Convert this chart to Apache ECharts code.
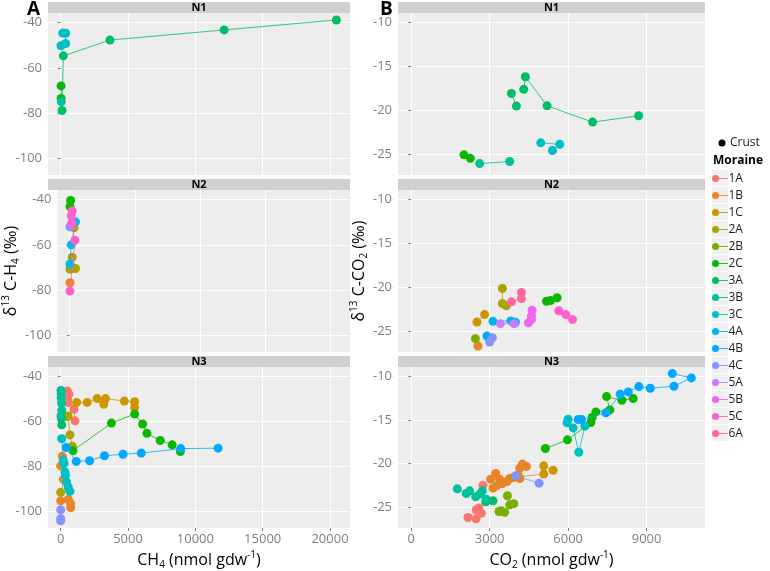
<!DOCTYPE html>
<html><head><meta charset="utf-8">
<script src="https://cdn.jsdelivr.net/npm/echarts@6/dist/echarts.min.js"></script>
<style>html,body{margin:0;padding:0;background:#fff}#c{width:770px;height:571px}</style>
</head><body><div id="c"></div>
<script>
// ---------- data ----------
const moraines = ['1A','1B','1C','2A','2B','2C','3A','3B','3C','4A','4B','4C','5A','5B','5C','6A'];
const moraineColors = ['#F8766D','#E88526','#CD9600','#ABA300','#7CAE00','#0CB702','#00BE67','#00C19A','#00BFC4','#00B8E7','#00A9FF','#8494FF','#C77CFF','#ED68ED','#FF61CC','#FF689F'];
const panelNames = ['N1','N2','N3'];
const ch4Ticks = [0,5000,10000,15000,20000];
const co2Ticks = [0,3000,6000,9000];
const d13CH4Ticks = [-100,-80,-60,-40];
const d13CO2Ticks = [-25,-20,-15,-10];

// rows: [moraine, x, y] in path order; a null x breaks the path
const CH4_N1 = [
  ['2C',30,-68.0],['2C',30,-73.6],
  ['3A',20474,-38.8],['3A',12137,-43.2],['3A',3657,-47.7],['3A',193,-54.7],['3A',100,-78.9],
  ['3B',40,-75.0],
  ['3C',148,-44.6],['3C',370,-44.7],['3C',370,-49.2],['3C',22,-50.2]
];
const CO2_N1 = [
  ['2C',2016,-25.1],['2C',2260,-25.5],
  ['3A',3831,-18.08],['3A',4022,-19.53],['3A',null,null],['3A',4302,-17.62],['3A',4367,-16.18],['3A',5196,-19.5],['3A',6934,-21.36],['3A',8696,-20.64],
  ['3B',2617,-26.1],['3B',3766,-25.86],
  ['3C',4953,-23.73],['3C',5681,-23.9],['3C',5402,-24.6]
];
const CH4_N2 = [
  ['1B',22,-76.8],
  ['1C',330,-52.5],
  ['2A',196,-65.5],['2A',22,-70.8],['2A',443,-70.5],
  ['2C',72,-40.3],['2C',22,-43.0],
  ['4A',443,-49.8],['4A',121,-60.0],['4A',22,-68.5],
  ['4C',22,-52.0],
  ['5C',196,-45.0],['5C',121,-47.2],['5C',150,-50.5],['5C',393,-58.0],['5C',22,-80.5]
];
const CO2_N2 = [
  ['1B',2553,-26.72],
  ['1C',2514,-23.97],['1C',2808,-23.13],
  ['2A',3486,-20.14],['2A',3486,-21.86],['2A',3640,-22.13],
  ['2B',2452,-25.88],
  ['2C',5172,-21.6],['2C',5325,-21.52],['2C',5579,-21.2],
  ['4A',3127,-23.9],['4A',3805,-23.85],['4A',3984,-24.0],
  ['4B',2897,-25.58],
  ['4C',3103,-25.77],['4C',3000,-26.27],
  ['5A',3410,-24.16],['5A',3933,-24.16],
  ['5B',4622,-22.63],['5B',4597,-23.28],['5B',4597,-23.7],['5B',4482,-24.08],
  ['5C',5643,-22.7],['5C',5911,-23.13],['5C',6168,-23.7],
  ['6A',3831,-21.67],['6A',4214,-21.3],['6A',4214,-20.6]
];
const CH4_N3 = [
  ['1A',493,-46.4],['1A',616,-47.8],['1A',493,-50.1],['1A',542,-51.5],['1A',985,-54.5],['1A',1059,-59.7],
  ['1B',123,-75.5],['1B',0,-79.8],['1B',200,-85.8],['1B',0,-95.4],['1B',566,-94.8],['1B',741,-96.6],['1B',741,-98.4],
  ['1C',493,-57.8],['1C',1182,-51.5],['1C',1970,-51.5],['1C',2709,-49.8],['1C',3202,-52.3],['1C',3325,-49.8],['1C',4729,-50.9],['1C',5493,-51.2],['1C',5493,-53.8],
  ['2A',542,-57.5],['2A',690,-66.0],['2A',862,-71.0],['2A',null,null],['2A',0,-91.6],
  ['2C',911,-73.0],['2C',3768,-60.7],['2C',5493,-56.7],['2C',6084,-61.1],['2C',6404,-65.3],['2C',7389,-68.5],['2C',8276,-70.4],['2C',8892,-73.4],
  ['3A',50,-58.5],['3A',80,-61.5],
  ['3B',20,-46.2],['3B',40,-47.5],['3B',30,-49.5],['3B',60,-51.8],['3B',80,-55.0],['3B',20,-57.5],
  ['3C',70,-67.7],['3C',190,-77.3],['3C',250,-78.8],['3C',320,-82.5],['3C',350,-84.0],['3C',440,-87.0],['3C',560,-89.2],['3C',690,-91.1],
  ['4B',419,-71.6],['4B',1158,-77.8],['4B',2143,-77.5],['4B',3251,-75.3],['4B',4630,-74.6],['4B',5985,-74.1],['4B',8916,-72.1],['4B',11691,-71.9],
  ['4C',0,-99.4],['4C',0,-103.4],['4C',0,-104.3]
];
const CO2_N3 = [
  ['1A',2745,-22.5],['1A',null,null],['1A',2590,-25.1],['1A',2680,-25.7],['1A',2490,-25.3],['1A',2170,-26.2],['1A',2480,-26.35],
  ['1B',3038,-21.79],['1B',3230,-21.14],['1B',3383,-21.79],['1B',3485,-22.29],['1B',3255,-22.56],['1B',3127,-22.82],['1B',3664,-22.06],['1B',3766,-21.71],['1B',4150,-21.71],['1B',4086,-21.29],['1B',4150,-20.52],['1B',4252,-20.06],['1B',4405,-20.33],
  ['1C',3900,-21.6],['1C',5068,-21.2],['1C',5068,-20.26],['1C',5425,-20.76],
  ['2B',3677,-23.7],['2B',3767,-24.74],['2B',3920,-24.6],['2B',3573,-25.6],['2B',3445,-25.43],['2B',3356,-25.5],
  ['2C',5132,-18.27],['2C',5974,-17.27],['2C',6868,-15.28],['2C',6919,-14.7],['2C',7060,-14.06],['2C',7596,-13.83],['2C',7468,-12.3],['2C',8055,-12.72],['2C',8489,-12.53],
  ['3A',2847,-24.39],['3A',3128,-24.27],
  ['3B',1762,-22.9],['3B',2106,-23.43],['3B',2234,-23.13],['3B',2463,-23.82],['3B',2617,-23.51],['3B',2720,-23.13],['3B',2872,-24.1],
  ['3C',5962,-15.3],['3C',6000,-14.9],['3C',6191,-15.9],['3C',6408,-18.7],['3C',6638,-15.7],
  ['4B',9983,-9.66],['4B',10711,-10.15],['4B',10047,-11.11],['4B',9140,-11.34],['4B',8706,-11.15],['4B',8298,-11.76],['4B',7992,-12.03],['4B',7443,-14.17],['4B',6510,-14.94],['4B',6383,-14.94],
  ['4C',3996,-21.41],['4C',4890,-22.25]
];

// ---------- layout ----------
const FONT = 'Open Sans';
const rowTop = [13,190,367], rowH = 162;
const cols = [{left:48,width:302},{left:398,width:307}];
const xRange = [[-943,21484],[-505,11233]];
const yRange = [[-107.5,-35.7],[-27.4,-8.9]];
const xTicks = [ch4Ticks, co2Ticks];
const yTicks = [d13CH4Ticks, d13CO2Ticks];
const panelData = [[CH4_N1,CH4_N2,CH4_N3],[CO2_N1,CO2_N2,CO2_N3]];

const rich = {
  n:{fontFamily:FONT,fontSize:16,color:'#000',lineHeight:20,verticalAlign:'middle'},
  sup:{fontFamily:FONT,fontSize:10,color:'#000',lineHeight:10,verticalAlign:'top'},
  sub:{fontFamily:FONT,fontSize:10,color:'#000',lineHeight:10,verticalAlign:'bottom'}
};
const xNames = ['{n|CH}{sub|4}{n| (nmol gdw}{sup|-1}{n|)}','{n|CO}{sub|2}{n| (nmol gdw}{sup|-1}{n|)}'];
const yNames = ['{n|δ}{sup|13}{n| C-H}{sub|4}{n| (‰)}','{n|δ}{sup|13}{n| C-CO}{sub|2}{n| (‰)}'];

const grids=[], xAxes=[], yAxes=[], series=[], graphics=[];
cols.forEach((c,ci)=>{
  rowTop.forEach((t,ri)=>{
    const gi = ci*3+ri;
    grids.push({left:c.left, top:t, width:c.width, height:rowH, show:true, backgroundColor:'#EDEDED', borderWidth:0});
    const bottom = ri===2;
    xAxes.push({
      type:'value', gridIndex:gi, min:xRange[ci][0], max:xRange[ci][1],
      axisLine:{show:false},
      axisTick:{show:bottom, customValues:xTicks[ci], length:3, lineStyle:{color:'#7F7F7F'}},
      axisLabel:{show:bottom, customValues:xTicks[ci], margin:5, fontFamily:FONT, fontSize:13, color:'#7F7F7F', formatter:v=>String(v)},
      splitLine:{show:true, lineStyle:{color:'#FFFFFF', width:1}},
      name: bottom? xNames[ci] : '', nameLocation:'middle', nameGap:22,
      nameTextStyle:{rich:rich}
    });
    yAxes.push({
      type:'value', gridIndex:gi, min:yRange[ci][0], max:yRange[ci][1],
      axisLine:{show:false},
      axisTick:{show:true, customValues:yTicks[ci], length:3, lineStyle:{color:'#7F7F7F'}},
      axisLabel:{show:true, customValues:yTicks[ci], margin:6, fontFamily:FONT, fontSize:13, color:'#7F7F7F', formatter:v=>String(v)},
      splitLine:{show:true, lineStyle:{color:'#FFFFFF', width:1}},
      name: ri===1? yNames[ci] : '', nameLocation:'middle', nameGap:27, nameRotate:90,
      nameTextStyle:{rich:rich}
    });
    // strip
    graphics.push({type:'rect', shape:{x:c.left, y:t-11, width:c.width, height:11}, style:{fill:'#CFCFCF'}, silent:true});
    graphics.push({type:'text', x:c.left+c.width/2, y:t-5.5, style:{text:panelNames[ri], fill:'#000', font:'bold 11px "'+FONT+'"', textAlign:'center', textVerticalAlign:'middle'}, silent:true});
    // series
    const byM = {};
    panelData[ci][ri].forEach(r=>{ (byM[r[0]] = byM[r[0]] || []).push(r[1]==null ? ['-','-'] : [r[1], r[2]]); });
    moraines.forEach((m,mi)=>{
      if(!byM[m]) return;
      const col = moraineColors[mi];
      series.push({type:'line', name:m, xAxisIndex:gi, yAxisIndex:gi, data:byM[m],
        symbol:'circle', symbolSize:9, showSymbol:true, connectNulls:false, clip:false,
        lineStyle:{width:0.8, color:col}, itemStyle:{color:col}, emphasis:{disabled:true}, z:2+mi*0.01});
    });
  });
});
// panel letters
graphics.push({type:'text', x:27, y:0, style:{text:'A', fill:'#000', font:'bold 19px "'+FONT+'"'}});
graphics.push({type:'text', x:380, y:0, style:{text:'B', fill:'#000', font:'bold 19px "'+FONT+'"'}});
// legend extras (key backgrounds + key lines; dots and labels come from the legend)
graphics.push({type:'circle', shape:{cx:722, cy:143, r:3.5}, style:{fill:'#000'}});
graphics.push({type:'text', x:730, y:143, style:{text:'Crust', fill:'#1a1a1a', font:'12px "'+FONT+'"', textVerticalAlign:'middle'}});
graphics.push({type:'text', x:713, y:161, style:{text:'Moraine', fill:'#000', font:'bold 12px "'+FONT+'"', textVerticalAlign:'middle'}});
const LEG_TOP = 170, LEG_STEP = 17;
moraines.forEach((m,i)=>{
  graphics.push({type:'rect', shape:{x:712, y:LEG_TOP+LEG_STEP*i, width:16, height:16}, style:{fill:'#F0F0F0'}, z:-1, silent:true});
  graphics.push({type:'line', shape:{x1:712, y1:LEG_TOP+LEG_STEP*i+8.5, x2:728, y2:LEG_TOP+LEG_STEP*i+8.5}, style:{stroke:moraineColors[i], lineWidth:0.9}, z:0, silent:true});
});

const chart = echarts.init(document.getElementById('c'));
chart.setOption({
  animation:false,
  backgroundColor:'#FFFFFF',
  grid:grids, xAxis:xAxes, yAxis:yAxes, series:series,
  legend:{data:moraines.map(m=>({name:m, icon:'circle'})), orient:'vertical', left:712, top:LEG_TOP, padding:0, itemWidth:16, itemHeight:7, itemGap:0, z:10,
    selectedMode:false, textStyle:{fontFamily:FONT, fontSize:12, color:'#1a1a1a', lineHeight:LEG_STEP}},
  graphic:graphics
});
</script>
</body></html>
